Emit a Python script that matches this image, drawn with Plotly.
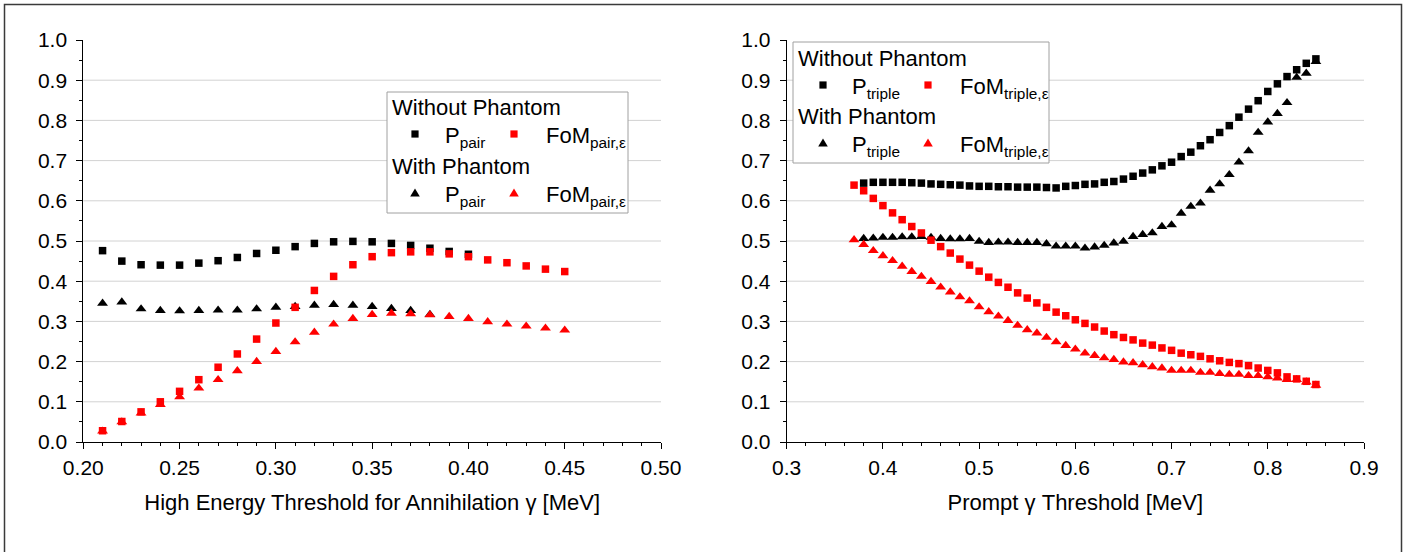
import plotly.graph_objects as go

# ---------------- data ----------------
# Left panel: high energy threshold for annihilation gamma [MeV]
thr_annih = [0.21, 0.22, 0.23, 0.24, 0.25, 0.26, 0.27, 0.28, 0.29, 0.30,
             0.31, 0.32, 0.33, 0.34, 0.35, 0.36, 0.37, 0.38, 0.39, 0.40,
             0.41, 0.42, 0.43, 0.44, 0.45]
p_pair_nophantom = [0.476, 0.450, 0.441, 0.440, 0.440, 0.445, 0.451, 0.459, 0.469, 0.477,
                    0.486, 0.494, 0.498, 0.499, 0.498, 0.494, 0.489, 0.482, 0.474, 0.467]
fom_pair_nophantom = [0.028, 0.051, 0.075, 0.100, 0.126, 0.155, 0.186, 0.219, 0.256, 0.296,
                      0.335, 0.377, 0.412, 0.441, 0.461, 0.471, 0.473, 0.473, 0.468, 0.461,
                      0.453, 0.446, 0.438, 0.430, 0.424]
p_pair_phantom = [0.345, 0.348, 0.331, 0.327, 0.326, 0.327, 0.328, 0.328, 0.331, 0.335,
                  0.337, 0.340, 0.342, 0.340, 0.337, 0.332, 0.327, 0.317]
fom_pair_phantom = [0.027, 0.050, 0.072, 0.093, 0.112, 0.134, 0.155, 0.177, 0.200, 0.225,
                    0.249, 0.273, 0.293, 0.307, 0.317, 0.320, 0.319, 0.316, 0.312, 0.307,
                    0.299, 0.293, 0.288, 0.283, 0.278]

# Right panel: prompt gamma threshold [MeV]
thr_prompt = [0.37, 0.38, 0.39, 0.40, 0.41, 0.42, 0.43, 0.44, 0.45, 0.46,
              0.47, 0.48, 0.49, 0.50, 0.51, 0.52, 0.53, 0.54, 0.55, 0.56,
              0.57, 0.58, 0.59, 0.60, 0.61, 0.62, 0.63, 0.64, 0.65, 0.66,
              0.67, 0.68, 0.69, 0.70, 0.71, 0.72, 0.73, 0.74, 0.75, 0.76,
              0.77, 0.78, 0.79, 0.80, 0.81, 0.82, 0.83, 0.84, 0.85]
# P_triple series start at the second threshold (0.38 MeV)
p_triple_nophantom = [0.644, 0.646, 0.646, 0.646, 0.646, 0.645, 0.644, 0.642, 0.641,
                      0.640, 0.639, 0.637, 0.636, 0.636, 0.635, 0.635, 0.634, 0.634, 0.634,
                      0.633, 0.632, 0.636, 0.638, 0.641, 0.642, 0.646, 0.648, 0.654, 0.661,
                      0.669, 0.677, 0.687, 0.696, 0.710, 0.721, 0.737, 0.752, 0.770, 0.787,
                      0.808, 0.828, 0.849, 0.872, 0.891, 0.909, 0.926, 0.942, 0.953]
fom_triple_nophantom = [0.639, 0.625, 0.606, 0.588, 0.570, 0.553, 0.536, 0.520, 0.502, 0.486,
                        0.470, 0.455, 0.440, 0.425, 0.410, 0.397, 0.385, 0.371, 0.358, 0.346,
                        0.335, 0.323, 0.314, 0.304, 0.295, 0.286, 0.276, 0.267, 0.260, 0.254,
                        0.246, 0.241, 0.234, 0.228, 0.221, 0.217, 0.213, 0.207, 0.202, 0.198,
                        0.195, 0.190, 0.184, 0.178, 0.172, 0.162, 0.157, 0.151, 0.143]
p_triple_phantom = [0.506, 0.507, 0.509, 0.509, 0.510, 0.510, 0.511, 0.509, 0.506,
                    0.505, 0.505, 0.506, 0.499, 0.496, 0.497, 0.497, 0.496, 0.496, 0.496,
                    0.493, 0.487, 0.487, 0.487, 0.482, 0.485, 0.489, 0.495, 0.499, 0.511,
                    0.516, 0.520, 0.536, 0.540, 0.569, 0.586, 0.594, 0.626, 0.642, 0.665,
                    0.696, 0.724, 0.770, 0.796, 0.817, 0.844, 0.907, 0.917, 0.946]
fom_triple_phantom = [0.503, 0.491, 0.476, 0.463, 0.451, 0.437, 0.424, 0.412, 0.399, 0.385,
                      0.373, 0.361, 0.351, 0.336, 0.324, 0.313, 0.302, 0.290, 0.279, 0.271,
                      0.260, 0.249, 0.240, 0.231, 0.221, 0.215, 0.209, 0.205, 0.199, 0.197,
                      0.192, 0.187, 0.184, 0.178, 0.178, 0.178, 0.173, 0.173, 0.170, 0.168,
                      0.168, 0.165, 0.165, 0.162, 0.159, 0.155, 0.155, 0.149, 0.141]

x_left_title = "High Energy Threshold for Annihilation γ [MeV]"
x_right_title = "Prompt γ Threshold [MeV]"
y_ticks = [0.0, 0.1, 0.2, 0.3, 0.4, 0.5, 0.6, 0.7, 0.8, 0.9, 1.0]
grid_levels = [0.1, 0.2, 0.3, 0.4, 0.5, 0.6, 0.7, 0.8, 0.9]

# ---------------- styling ----------------
W, H = 1410, 552
FONT = "Liberation Sans, Arial, sans-serif"
BLACK = "#000000"
RED = "#ff0000"
SQ = 7.5
TRI = 9.5


def px(x):
    return x / W


def py(y):
    return 1 - y / H


fig = go.Figure()


def add_series(x, y, color, symbol, size, xa, ya, offset=0):
    fig.add_trace(go.Scatter(
        x=x[offset:offset + len(y)], y=y, mode="markers", xaxis=xa, yaxis=ya,
        showlegend=False, cliponaxis=False,
        marker=dict(color=color, symbol=symbol, size=size, line=dict(width=0)),
    ))


# left panel: black first, red on top
add_series(thr_annih, p_pair_nophantom, BLACK, "square", SQ, "x", "y")
add_series(thr_annih, p_pair_phantom, BLACK, "triangle-up", TRI, "x", "y")
add_series(thr_annih, fom_pair_nophantom, RED, "square", SQ, "x", "y")
add_series(thr_annih, fom_pair_phantom, RED, "triangle-up", TRI, "x", "y")

# right panel
add_series(thr_prompt, p_triple_nophantom, BLACK, "square", SQ, "x2", "y2", offset=1)
add_series(thr_prompt, p_triple_phantom, BLACK, "triangle-up", TRI, "x2", "y2", offset=1)
add_series(thr_prompt, fom_triple_nophantom, RED, "square", SQ, "x2", "y2")
add_series(thr_prompt, fom_triple_phantom, RED, "triangle-up", TRI, "x2", "y2")

tickfont = dict(family=FONT, size=21, color=BLACK)
titlefont = dict(family=FONT, size=22, color=BLACK)

common_x = dict(
    ticks="outside", ticklen=6, tickwidth=1, tickcolor=BLACK,
    showline=True, linecolor=BLACK, linewidth=1, automargin=False,
    showgrid=False, zeroline=False, tickfont=tickfont,
    title=dict(font=titlefont, standoff=16),
    ticklabelstandoff=1,
)
common_y = dict(
    range=[0, 1], tickvals=y_ticks, tickformat=".1f",
    ticks="outside", ticklen=6, tickwidth=1, tickcolor=BLACK,
    showline=True, linecolor=BLACK, linewidth=1, automargin=False,
    showgrid=False, zeroline=False, tickfont=tickfont,
    minor=dict(dtick=0.05, tick0=0, ticks="outside", ticklen=3, tickcolor=BLACK),
    domain=[py(442), py(40)], ticklabelstandoff=5,
)

fig.update_layout(
    template="none",
    width=W, height=H, margin=dict(l=0, r=0, t=0, b=0, pad=0),
    paper_bgcolor="white", plot_bgcolor="white",
    font=dict(family=FONT, color=BLACK),
    xaxis=dict(common_x, domain=[px(83.3), px(661)], range=[0.2, 0.5],
               tick0=0.2, dtick=0.05, tickformat=".2f",
               minor=dict(dtick=0.01, tick0=0.2, ticks="outside", ticklen=3, tickcolor=BLACK),
               title_text=x_left_title, anchor="y"),
    yaxis=dict(common_y, anchor="x"),
    xaxis2=dict(common_x, domain=[px(786.7), px(1364)], range=[0.3, 0.9],
                tick0=0.3, dtick=0.1, tickformat=".1f",
                minor=dict(dtick=0.02, tick0=0.3, ticks="outside", ticklen=3, tickcolor=BLACK),
                title_text=x_right_title, anchor="y2"),
    yaxis2=dict(common_y, anchor="x2"),
)

shapes = []
# horizontal grid lines
for xr, yr in (("x domain", "y"), ("x2 domain", "y2")):
    for g in grid_levels:
        shapes.append(dict(type="line", xref=xr, yref=yr, x0=0, x1=1, y0=g, y1=g,
                           line=dict(color="#d2d2d2", width=1), layer="below"))

# outer frame
shapes.append(dict(type="rect", xref="paper", yref="paper",
                   x0=px(4.5), x1=px(1401.5), y0=-0.1, y1=py(4.5),
                   line=dict(color="#3a3a3a", width=1.5)))

annotations = []


def legend_block(box, x_text, x_m1, x_t1, x_m2, x_t2, rows, sub):
    bx0, by0, bx1, by1 = box
    shapes.append(dict(type="rect", xref="paper", yref="paper",
                       x0=px(bx0), x1=px(bx1), y0=py(by1), y1=py(by0),
                       line=dict(color="#a0a0a0", width=1), fillcolor="white",
                       layer="above"))
    y_h1, y_r1, y_h2, y_r2 = rows
    for yh, label in ((y_h1, "Without Phantom"), (y_h2, "With Phantom")):
        annotations.append(dict(xref="paper", yref="paper", x=px(x_text), y=py(yh),
                                text=label, showarrow=False, xanchor="left",
                                yanchor="middle", font=dict(family=FONT, size=22, color=BLACK)))
    for yr, kind in ((y_r1, "square"), (y_r2, "triangle")):
        for xm, col in ((x_m1, BLACK), (x_m2, RED)):
            if kind == "square":
                s = 3.6
                shapes.append(dict(type="rect", xref="paper", yref="paper",
                                   x0=px(xm - s), x1=px(xm + s), y0=py(yr + s), y1=py(yr - s),
                                   line=dict(width=0), fillcolor=col, layer="above"))
            else:
                path = "M {} {} L {} {} L {} {} Z".format(
                    px(xm - 4.8), py(yr + 3.6), px(xm + 4.8), py(yr + 3.6), px(xm), py(yr - 4.4))
                shapes.append(dict(type="path", xref="paper", yref="paper", path=path,
                                   line=dict(width=0), fillcolor=col, layer="above"))
        annotations.append(dict(xref="paper", yref="paper", x=px(x_t1), y=py(yr - 13),
                                text="P<sub>%s</sub>" % sub, showarrow=False, xanchor="left",
                                yanchor="top", font=dict(family=FONT, size=22, color=BLACK)))
        annotations.append(dict(xref="paper", yref="paper", x=px(x_t2), y=py(yr - 13),
                                text="FoM<sub>%s,ε</sub>" % sub, showarrow=False, xanchor="left",
                                yanchor="top", font=dict(family=FONT, size=22, color=BLACK)))


legend_block((387, 92, 628, 213), 390, 415, 443, 514, 544, (108, 134, 166, 193), "pair")
legend_block((793, 42, 1049, 163), 796, 823, 850, 928, 958, (58, 85, 117, 143), "triple")

fig.update_layout(shapes=shapes, annotations=annotations)

fig.write_html("out.html")
